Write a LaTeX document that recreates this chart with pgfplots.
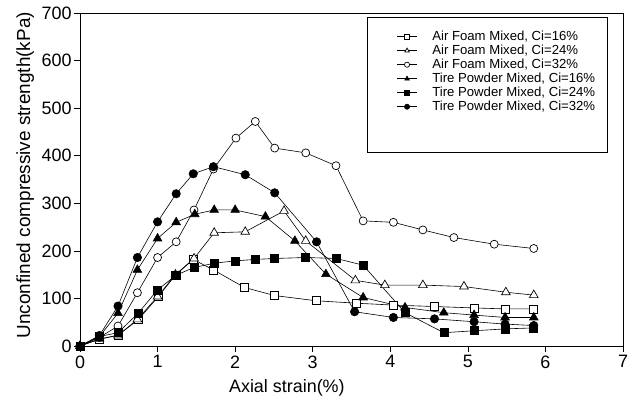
\documentclass[border=0pt]{standalone}
\usepackage{pgfplots}
\pgfplotsset{compat=1.18}
\usepackage{fontspec}
\setmainfont{Liberation Sans}
\begin{document}
\begin{tikzpicture}
\begin{axis}[
  scale only axis, width=543bp, height=333bp,
  xmin=0, xmax=7, ymin=0, ymax=700,
  xtick={0,1,2,3,4,5,6,7}, ytick={0,100,...,700},
  tick pos=left, tick align=outside, major tick length=6bp,
  tick style={black, line width=0.6pt},
  axis line style={black, line width=0.8pt},
  /pgf/number format/assume math mode=true,
  ticklabel style={font=\fontsize{18}{20}\selectfont},
  yticklabel style={xshift=1bp},
  xlabel={Axial strain(\%)},
  ylabel={Unconfined compressive strength(kPa)},
  xlabel style={font=\fontsize{18}{20}\selectfont, at={(axis description cs:0.381,-0.126)}, anchor=center},
  ylabel style={font=\fontsize{19}{21}\selectfont, at={(axis description cs:-0.101,0.513)}, anchor=center, rotate=0},
  legend style={draw=none, fill=none, at={(axis description cs:0.583,0.952)}, anchor=north west,
    font=\fontsize{13.2}{15}\selectfont, row sep=-1bp, inner sep=0pt,
    /tikz/every odd column/.append style={column sep=13bp}},
  legend cell align=left,
  legend image code/.code={\draw[mark size=2.6bp, mark repeat=2, mark phase=2] plot coordinates {(0bp,0bp)(10bp,0bp)(20bp,0bp)};},
  every axis plot/.append style={line width=0.6pt, black},
]
\addplot[mark=square*, mark options={fill=white, line width=0.7pt}, mark size=4bp] coordinates {
(0,0)(0.25,14)(0.49,23)(0.75,55)(1.01,104)(1.23,149)(1.46,182)(1.72,160)(2.12,123)(2.51,106)(3.05,95)(3.56,90)(4.04,86)(4.57,83)(5.08,80)(5.48,78)(5.85,78)};
\addlegendentry{Air Foam Mixed, Ci=16\%}
\addplot[mark=triangle*, mark options={fill=white, line width=0.7pt}, mark size=5bp] coordinates {
(0,0)(0.25,15)(0.49,22)(0.74,56)(1.0,104)(1.23,150)(1.47,184)(1.73,238)(2.13,240)(2.63,284)(2.91,221)(3.55,138)(3.93,128)(4.42,128)(4.95,125)(5.49,113)(5.85,107)};
\addlegendentry{Air Foam Mixed, Ci=24\%}
\addplot[mark=*, mark options={fill=white, line width=0.7pt}, mark size=4bp] coordinates {
(0,0)(0.25,18)(0.49,42)(0.74,112)(1.0,186)(1.24,219)(1.47,286)(1.72,372)(2.01,437)(2.26,472)(2.51,416)(2.91,406)(3.30,379)(3.65,263)(4.04,260)(4.42,244)(4.82,228)(5.34,214)(5.85,205)};
\addlegendentry{Air Foam Mixed, Ci=32\%}
\addplot[mark=triangle*, mark options={fill=black}, mark size=5bp] coordinates {
(0,0)(0.25,20)(0.49,69)(0.74,160)(1.0,226)(1.24,260)(1.48,277)(1.73,286)(2.0,286)(2.39,272)(2.77,221)(3.17,151)(3.65,102)(4.19,81)(4.69,70)(5.08,65)(5.48,60)(5.85,60)};
\addlegendentry{Tire Powder Mixed, Ci=16\%}
\addplot[mark=square*, mark options={fill=black}, mark size=4bp] coordinates {
(0,0)(0.25,20)(0.49,28)(0.75,69)(1.0,118)(1.24,149)(1.47,165)(1.73,174)(2.0,179)(2.26,182)(2.51,184)(2.91,186)(3.30,184)(3.65,170)(4.19,70)(4.69,28)(5.08,32)(5.48,36)(5.85,38)};
\addlegendentry{Tire Powder Mixed, Ci=24\%}
\addplot[mark=*, mark options={fill=black}, mark size=4.2bp] coordinates {
(0,0)(0.25,22)(0.49,84)(0.74,186)(1.0,261)(1.24,320)(1.46,362)(1.72,377)(2.13,360)(2.51,322)(3.05,219)(3.54,72)(4.04,60)(4.57,57)(5.08,51)(5.48,46)(5.85,43)};
\addlegendentry{Tire Powder Mixed, Ci=32\%}
\draw[black, line width=0.8pt] (axis description cs:0.530,0.988) rectangle (axis description cs:0.972,0.582);
\end{axis}
\pgfresetboundingbox
\path (current axis.south west) ++(-80bp,-57bp) rectangle ++(634bp,403bp);
\end{tikzpicture}
\end{document}
